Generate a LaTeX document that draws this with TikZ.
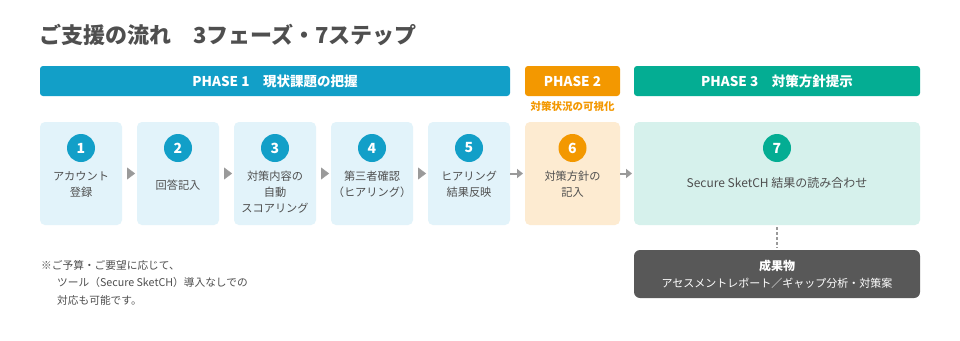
\documentclass[tikz,border=0pt]{standalone}
\usepackage{fontspec}
\setmainfont{Noto Sans CJK JP}
\usetikzlibrary{arrows.meta,positioning}
\definecolor{PhaseBlue}{HTML}{129FC8}
\definecolor{PhaseOrange}{HTML}{F39800}
\definecolor{PhaseTeal}{HTML}{04AD93}
\definecolor{PaleBlue}{HTML}{E2F3FA}
\definecolor{PaleOrange}{HTML}{FDEBD1}
\definecolor{PaleTeal}{HTML}{D6F1EC}
\definecolor{Ink}{HTML}{4F4F4F}
\definecolor{Slate}{HTML}{585858}
\definecolor{Pebble}{HTML}{9A9A9A}
\tikzset{
  tipflow/.style={-{Triangle[length=8pt,width=12pt]},line width=0.4pt,draw=Pebble,shorten <=5pt,shorten >=2pt},
  lineflow/.style={-{Triangle[length=6pt,width=9pt]},line width=2pt,draw=Pebble,shorten >=2pt},
  dotlink/.style={line width=2pt,draw=Pebble,dash pattern=on 3pt off 2pt,shorten <=2pt,shorten >=2pt},
  phasebar/.style={rounded corners=3pt,minimum height=30pt,inner sep=0pt,text=white,
    font=\fontsize{13.5}{16}\selectfont\bfseries},
  stepbox/.style={rounded corners=5pt,minimum width=82pt,minimum height=103pt,inner sep=0pt,outer sep=0pt},
  numdot/.style={circle,minimum size=28pt,inner sep=0pt,text=white,font=\fontsize{14}{16}\selectfont\bfseries},
  steptext/.style={align=center,inner sep=0pt,text=Ink,font=\fontsize{11.2}{16}\selectfont},
  outbox/.style={rounded corners=6pt,minimum width=286pt,minimum height=48pt,inner sep=0pt,outer sep=0pt,
    fill=Slate,text=white,align=center,font=\fontsize{11}{17}\selectfont},
}

\begin{document}
\begin{tikzpicture}[x=1pt,y=-1pt,node distance=15pt]
        \fill[white] (0,0) rectangle (960,340);
        \useasboundingbox (0,0) rectangle (960,340);
        \node[anchor=west,inner sep=0pt,text=Ink,font=\fontsize{22}{25}\selectfont\bfseries] (title) at (39,35)
          {ご支援の流れ　3フェーズ・7ステップ};
        \node[phasebar,fill=PhaseBlue,minimum width=470pt] (p1) at (275,81) {PHASE 1　現状課題の把握};
        \node[phasebar,fill=PhaseOrange,minimum width=95pt] (p2) at (572.5,81) {PHASE 2};
        \node[phasebar,fill=PhaseTeal,minimum width=286pt] (p3) at (777,81) {PHASE 3　対策方針提示};
        \node[inner sep=0pt,below=5pt of p2,text=PhaseOrange,font=\fontsize{10.5}{12}\selectfont\bfseries] (p2sub)
          {対策状況の可視化};
        \node[stepbox,fill=PaleBlue,anchor=north west] (s1) at (40,122) {};
        \node[stepbox,fill=PaleBlue,right=of s1] (s2) {};
        \node[stepbox,fill=PaleBlue,right=of s2] (s3) {};
        \node[stepbox,fill=PaleBlue,right=of s3] (s4) {};
        \node[stepbox,fill=PaleBlue,right=of s4] (s5) {};
        \node[stepbox,fill=PaleOrange,minimum width=95pt,right=of s5] (s6) {};
        \node[stepbox,fill=PaleTeal,minimum width=286pt,right=14pt of s6] (s7) {};
        \node[numdot,fill=PhaseBlue] (n1) at ([yshift=-26pt]s1.north) {1};
        \node[numdot,fill=PhaseBlue] (n2) at ([yshift=-26pt]s2.north) {2};
        \node[numdot,fill=PhaseBlue] (n3) at ([yshift=-26pt]s3.north) {3};
        \node[numdot,fill=PhaseBlue] (n4) at ([yshift=-26pt]s4.north) {4};
        \node[numdot,fill=PhaseBlue] (n5) at ([yshift=-26pt]s5.north) {5};
        \node[numdot,fill=PhaseOrange] (n6) at ([yshift=-26pt]s6.north) {6};
        \node[numdot,fill=PhaseTeal] (n7) at ([yshift=-26pt]s7.north) {7};
        \node[steptext,below=9pt of n1] (t1) {アカウント\\登録};
        \node[steptext,below=18pt of n2] (t2) {回答記入};
        \node[steptext,below=9pt of n3] (t3) {対策内容の\\自動\\スコアリング};
        \node[steptext,below=9pt of n4] (t4) {第三者確認\\（ヒアリング）};
        \node[steptext,below=9pt of n5] (t5) {ヒアリング\\結果反映};
        \node[steptext,below=9pt of n6] (t6) {対策方針の\\記入};
        \node[steptext,below=15pt of n7,font=\fontsize{12}{16}\selectfont] (t7) {Secure SketCH 結果の読み合わせ};
        \draw[tipflow] (s1) -- (s2);
        \draw[tipflow] (s2) -- (s3);
        \draw[tipflow] (s3) -- (s4);
        \draw[tipflow] (s4) -- (s5);
        \draw[lineflow] (s5) -- (s6);
        \draw[lineflow] (s6) -- (s7);
        \node[outbox,below=25pt of s7] (out)
          {{\fontsize{12}{17}\selectfont\bfseries 成果物}\\アセスメントレポート／ギャップ分析・対策案};
        \draw[dotlink] (s7) -- (out);
        \node[anchor=north west,inner sep=0pt,align=left,text=Ink,font=\fontsize{10.7}{17.5}\selectfont] (note) at (41,260)
          {※ご予算・ご要望に応じて、\\\hspace*{16pt}ツール（Secure SketCH）導入なしでの\\\hspace*{16pt}対応も可能です。};
      \end{tikzpicture}
\end{document}
